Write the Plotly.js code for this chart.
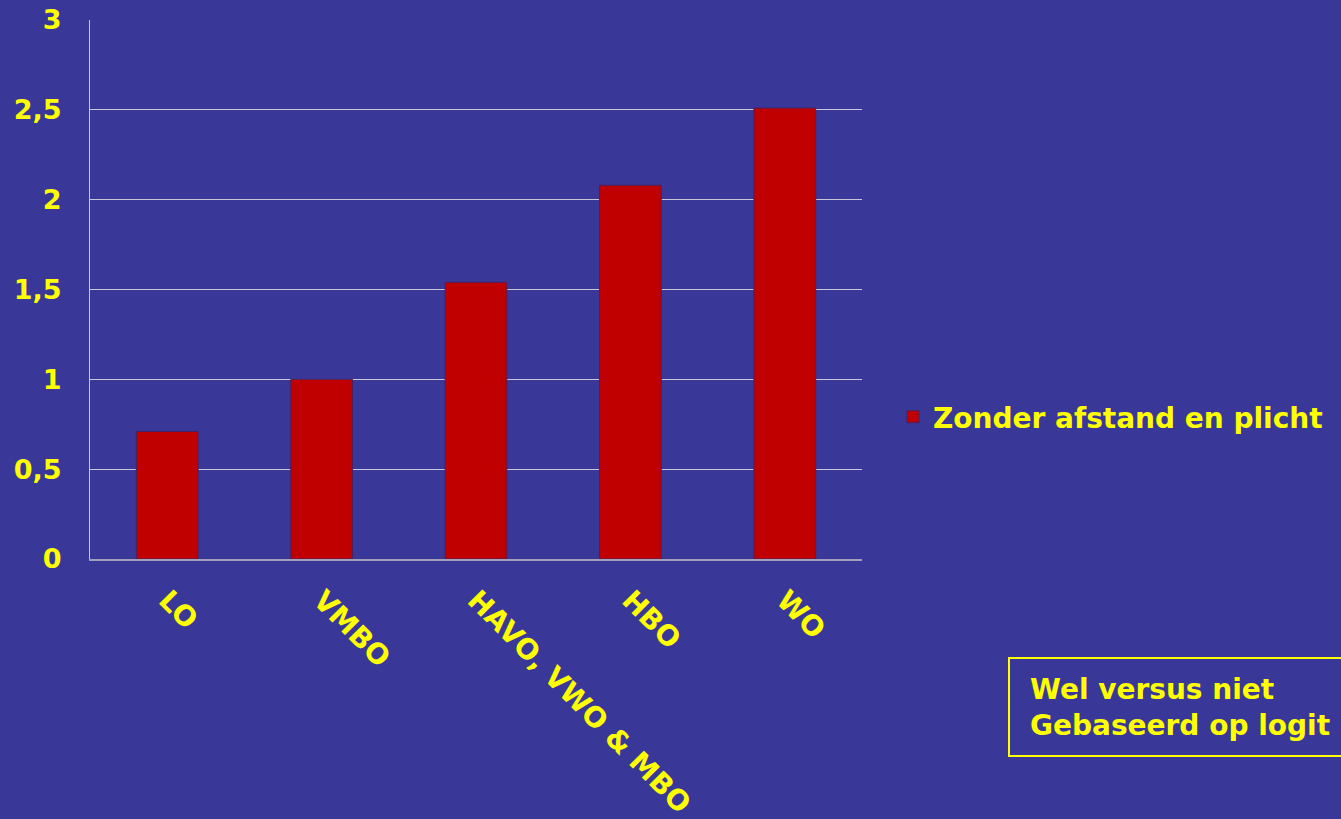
<!DOCTYPE html>
<html>
<head>
<meta charset="utf-8">
<script src="https://cdn.plot.ly/plotly-3.0.1.min.js"></script>
<style>html,body{margin:0;padding:0;background:#393898;}#chart{width:1341px;height:819px;}</style>
</head>
<body>
<div id="chart"></div>
<script>
const categories = ["LO", "VMBO", "HAVO, VWO & MBO", "HBO", "WO"];
const values = [0.71, 1.0, 1.54, 2.08, 2.51];
const seriesName = "Zonder afstand en plicht";
const noteLines = ["Wel versus niet", "Gebaseerd op logit"];

const L = 90, R = 862, T = 20, B = 559;
const px = x => (x - L) / (R - L);
const py = y => (B - y) / (B - T);

const yellow = "#ffff00";
const fontFam = "DejaVu Sans, Verdana, sans-serif";

const trace = {
  type: "bar",
  x: categories,
  y: values,
  name: seriesName,
  marker: { color: "#c00000", line: { color: "#4a2060", width: 1 } },
  showlegend: true
};

const layout = {
  width: 1341, height: 819,
  paper_bgcolor: "#393898",
  plot_bgcolor: "#393898",
  separators: ",.",
  margin: { l: L, r: 1341 - R, t: T, b: 819 - B, pad: 0 },
  bargap: 0.6,
  font: { family: fontFam, color: yellow },
  xaxis: {
    type: "category",
    tickangle: 45,
    tickfont: { family: fontFam, size: 28, color: yellow, weight: "bold" },
    showline: true, linecolor: "#a0a0b8", linewidth: 1.5,
    ticks: "", showgrid: false, zeroline: false, ticklabelstandoff: 12
  },
  yaxis: {
    range: [0, 3], dtick: 0.5, tick0: 0,
    tickfont: { family: fontFam, size: 27, color: yellow, weight: "bold" },
    showgrid: true, gridcolor: "#c8c8d8", gridwidth: 1,
    showline: true, linecolor: "#c8c8d8", linewidth: 1,
    zeroline: false, ticks: "", ticklabelstandoff: 22
  },
  showlegend: true,
  legend: {
    x: px(893), y: py(417), xanchor: "left", yanchor: "middle",
    bgcolor: "rgba(0,0,0,0)",
    font: { family: fontFam, size: 28, color: yellow, weight: "bold" },
    itemwidth: 30, tracegroupgap: 0
  },
  shapes: [{
    type: "rect", xref: "paper", yref: "paper",
    x0: px(1009), x1: px(1370), y0: py(756), y1: py(658),
    line: { color: yellow, width: 2 }, fillcolor: "rgba(0,0,0,0)"
  }],
  annotations: [{
    xref: "paper", yref: "paper",
    x: px(1028), y: py(707), xanchor: "left", yanchor: "middle",
    text: noteLines.join("<br>"), align: "left", showarrow: false,
    font: { family: fontFam, size: 28, color: yellow, weight: "bold" }
  }]
};

Plotly.newPlot("chart", [trace], layout, { staticPlot: true });
</script>
</body>
</html>
